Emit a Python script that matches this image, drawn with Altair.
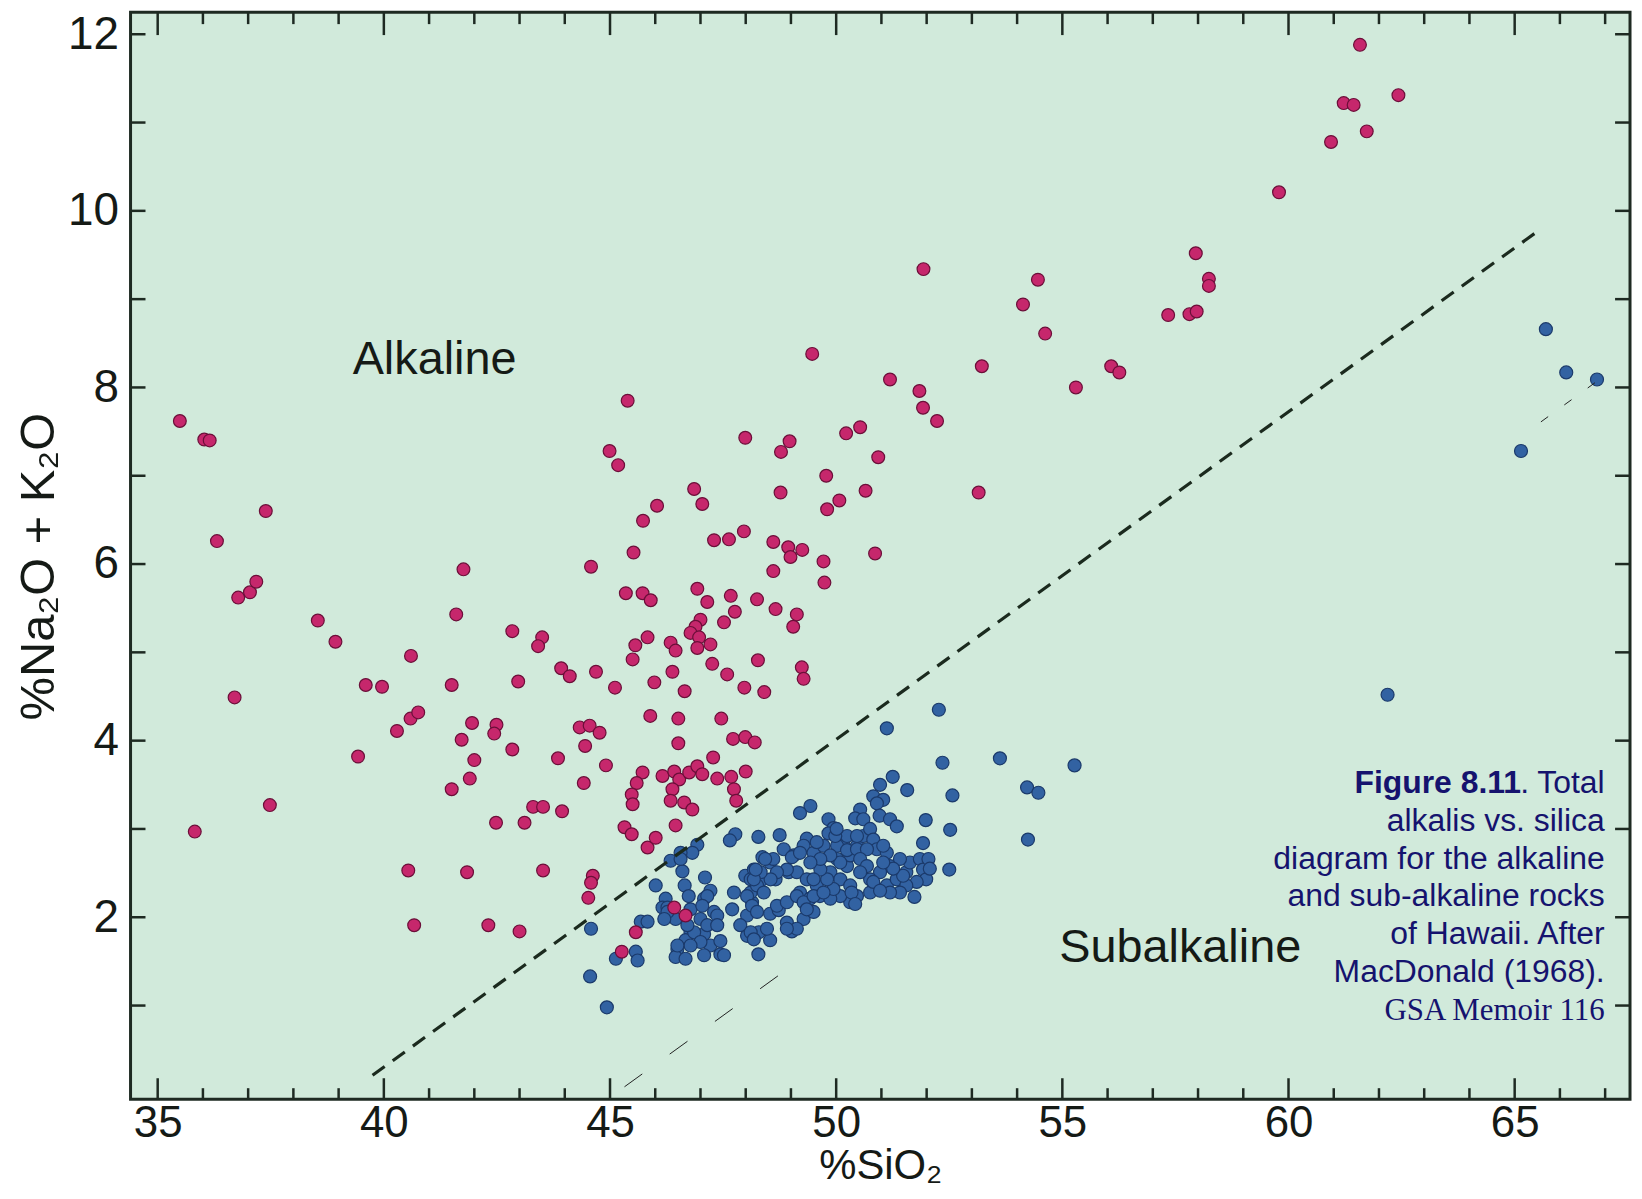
import altair as alt
import pandas as pd

# ---------------- data ----------------
X_DOMAIN = [34.40, 67.55]
Y_DOMAIN = [-0.06, 12.25]

alkaline_pts = [
    (35.49, 7.62), (36.03, 7.41), (36.15, 7.40), (36.31, 6.26), (37.39, 6.60),
    (36.78, 5.62), (37.04, 5.68), (37.18, 5.80), (38.54, 5.36), (38.93, 5.12),
    (36.70, 4.49), (35.82, 2.97), (37.48, 3.27), (39.43, 3.82), (39.60, 4.63),
    (39.96, 4.61), (40.29, 4.11), (40.59, 4.25), (40.76, 4.32), (40.60, 4.96),
    (41.50, 4.63), (41.60, 5.43), (41.76, 5.94), (41.50, 3.45), (41.90, 3.57),
    (41.95, 4.20), (41.72, 4.01), (42.00, 3.78), (42.49, 4.18), (42.44, 4.08),
    (42.84, 3.90), (42.97, 4.67), (42.84, 5.24), (43.50, 5.17), (43.41, 5.07),
    (43.85, 3.80), (43.92, 4.82), (44.11, 4.73), (44.33, 4.15), (44.55, 4.17),
    (44.77, 4.09), (44.45, 3.94), (44.58, 5.97), (44.69, 4.78), (44.42, 3.52),
    (43.30, 3.25), (43.52, 3.25), (43.94, 3.20), (42.48, 3.07), (43.11, 3.07),
    (40.54, 2.53), (41.84, 2.51), (43.52, 2.53), (44.62, 2.47), (44.58, 2.39),
    (44.52, 2.22), (40.67, 1.91), (42.31, 1.91), (43.00, 1.84), (44.91, 3.72),
    (49.47, 8.38), (53.22, 8.24), (51.19, 8.09), (51.84, 7.96), (51.92, 7.77),
    (52.23, 7.62), (45.39, 7.85), (47.99, 7.43), (48.97, 7.39), (48.78, 7.27),
    (50.22, 7.48), (50.53, 7.55), (50.93, 7.21), (44.99, 7.28), (45.18, 7.12),
    (49.78, 7.00), (48.77, 6.81), (50.07, 6.72), (49.80, 6.62), (50.65, 6.83),
    (53.15, 6.81), (46.86, 6.85), (47.04, 6.68), (46.04, 6.66), (45.73, 6.49),
    (45.52, 6.13), (47.30, 6.27), (47.63, 6.28), (47.96, 6.37), (48.61, 6.25),
    (48.94, 6.19), (48.99, 6.08), (49.25, 6.16), (49.72, 6.03), (49.74, 5.79),
    (50.86, 6.12), (48.61, 5.92), (45.35, 5.67), (45.72, 5.67), (45.90, 5.59),
    (46.93, 5.72), (47.15, 5.57), (47.67, 5.64), (48.25, 5.60), (47.76, 5.46),
    (48.66, 5.49), (49.13, 5.43), (49.05, 5.29), (47.52, 5.34), (47.00, 5.37),
    (46.89, 5.29), (46.78, 5.22), (46.97, 5.17), (46.93, 5.05), (47.22, 5.09),
    (45.56, 5.08), (45.83, 5.17), (45.50, 4.92), (46.34, 5.11), (46.45, 5.02),
    (48.27, 4.91), (49.24, 4.83), (49.28, 4.70), (47.26, 4.87), (47.59, 4.75),
    (46.38, 4.78), (45.11, 4.60), (45.98, 4.66), (46.65, 4.56), (47.97, 4.60),
    (48.41, 4.55), (45.89, 4.28), (46.51, 4.25), (47.46, 4.25), (46.51, 3.97),
    (47.72, 4.02), (47.99, 4.04), (48.20, 3.98), (47.28, 3.81),
    (45.72, 3.64), (45.59, 3.52), (45.48, 3.39), (45.50, 3.28),
    (46.16, 3.60), (46.42, 3.65), (46.53, 3.56), (46.38, 3.45), (46.34, 3.32),
    (46.64, 3.30), (46.82, 3.22), (46.75, 3.64), (46.93, 3.71), (47.04, 3.62),
    (47.37, 3.57), (47.68, 3.59), (48.00, 3.65), (47.74, 3.45), (47.79, 3.32),
    (45.32, 3.02), (45.48, 2.94), (45.83, 2.79), (46.01, 2.90), (46.45, 3.04),
    (45.57, 1.83), (45.26, 1.61), (46.42, 2.11), (46.67, 2.02),
    (61.58, 11.88), (62.43, 11.31), (61.22, 11.22), (61.44, 11.20), (61.73, 10.90),
    (60.94, 10.78), (59.79, 10.21), (57.95, 9.52), (58.24, 9.23), (58.24, 9.15),
    (57.34, 8.82), (57.81, 8.83), (57.97, 8.86), (54.46, 9.22), (54.13, 8.94),
    (54.62, 8.61), (55.30, 8.00), (56.08, 8.24), (56.26, 8.17), (51.93, 9.34),
]

subalkaline_pts = [
    (65.69, 8.66), (66.14, 8.17), (66.82, 8.09), (65.14, 7.28), (62.19, 4.52),
    (53.62, 3.80), (54.22, 3.47), (54.47, 3.41), (54.24, 2.88), (55.27, 3.72),
    (52.27, 4.35), (51.12, 4.14),
    (52.35, 3.75), (52.57, 3.38), (52.52, 2.99), (52.50, 2.54),
    (51.57, 3.44), (51.25, 3.59), (50.97, 3.50), (50.82, 3.37), (51.04, 3.33), (50.90, 3.29),
    (50.53, 3.22), (50.42, 3.12), (50.60, 3.11), (50.96, 3.15), (51.19, 3.11), (51.34, 3.03),
    (51.98, 3.10), (51.92, 2.84), (51.73, 2.23),
    (49.43, 3.26), (49.20, 3.18), (49.83, 3.11), (49.94, 3.01), (49.83, 2.95),
    (49.35, 2.89), (48.75, 2.93), (48.28, 2.91), (47.77, 2.94), (47.65, 2.87),
    (46.93, 2.82), (46.82, 2.73), (46.56, 2.73), (46.34, 2.64),
    (46.60, 2.52), (46.65, 2.36), (47.10, 2.45), (46.01, 2.36), (46.23, 2.21), (46.16, 2.11),
    (47.22, 2.30), (47.08, 2.21), (47.30, 2.06), (47.37, 2.02), (47.00, 1.98), (46.78, 2.09), (46.45, 1.98),
    (46.78, 1.83), (46.67, 1.74), (46.49, 1.64), (46.45, 1.55), (46.67, 1.53),
    (47.08, 1.81), (47.22, 1.68), (47.44, 1.73), (47.44, 1.58), (47.15, 1.91),
    (47.74, 2.28), (47.70, 2.09), (48.03, 2.02), (48.14, 2.17), (48.11, 2.28), (47.99, 2.47), (48.25, 2.47),
    (48.03, 1.79), (48.29, 1.83), (48.54, 1.74), (48.28, 1.58),
    (48.54, 2.04), (48.73, 2.08), (48.91, 1.94), (49.02, 1.84),
    (48.37, 2.68), (48.54, 2.62), (48.37, 2.43), (48.66, 2.43), (48.95, 2.51),
    (48.84, 2.77), (49.06, 2.70), (49.28, 2.81), (49.50, 2.73), (49.72, 2.81),
    (49.13, 2.51), (49.35, 2.43), (49.57, 2.36), (49.20, 2.28), (49.42, 2.21), (49.64, 2.24),
    (49.28, 1.98), (49.50, 2.06),
    (49.87, 2.51), (50.09, 2.43), (50.24, 2.58), (50.31, 2.70), (50.02, 2.66), (50.17, 2.81),
    (50.46, 2.81), (50.60, 2.92), (50.75, 3.00), (50.82, 2.88),
    (50.31, 2.36), (50.46, 2.24), (50.31, 2.17), (50.09, 2.24), (49.87, 2.21),
    (50.90, 2.77), (51.12, 2.73), (51.19, 2.58), (50.97, 2.51), (50.75, 2.43), (50.90, 2.32),
    (51.12, 2.36), (51.34, 2.43), (51.55, 2.51), (51.63, 2.62), (51.85, 2.66), (51.92, 2.54),
    (51.99, 2.43), (51.78, 2.40), (51.55, 2.36), (51.41, 2.28), (51.19, 2.28), (50.75, 2.28),
    (45.57, 1.61), (45.61, 1.51), (45.13, 1.53), (45.68, 1.95), (45.83, 1.95),
    (44.58, 1.87), (44.56, 1.33), (44.93, 0.98),
    (50.24, 2.92), (50.46, 2.92), (49.57, 2.85), (50.02, 2.81), (50.24, 2.76), (50.46, 2.77), (50.68, 2.77),
    (49.02, 2.68), (49.20, 2.73), (48.61, 2.66), (48.43, 2.66),
    (51.04, 2.81), (51.41, 2.66), (52.04, 2.66), (52.07, 2.55), (51.48, 2.47), (51.26, 2.55), (51.04, 2.62),
    (50.82, 2.40), (50.97, 2.30),
    (50.34, 2.28), (50.42, 2.15), (49.94, 2.32), (49.80, 2.43), (49.65, 2.54), (49.50, 2.43),
    (48.91, 2.54), (48.69, 2.51), (48.55, 2.43), (48.33, 2.51), (48.18, 2.54), (48.11, 2.43),
    (48.25, 2.36), (48.40, 2.28), (48.03, 2.24), (48.14, 2.13), (48.25, 2.06), (48.69, 2.13),
    (48.91, 2.17), (49.13, 2.24), (49.28, 2.17), (49.50, 2.24), (49.72, 2.28), (49.13, 1.87),
    (48.91, 1.87), (49.35, 2.09),
    (47.88, 1.91), (48.11, 1.83), (48.47, 1.87),
    (49.98, 2.92), (50.01, 3.00),
    (50.09, 2.62), (50.53, 2.66), (50.68, 2.58), (49.87, 2.70), (49.65, 2.66), (49.43, 2.62), (50.53, 2.51),
    (46.56, 2.66), (46.74, 2.24), (46.27, 2.11),
    (47.15, 2.24), (47.04, 2.13), (47.37, 1.91), (46.86, 1.83), (46.71, 1.91), (46.27, 2.06), (46.20, 1.98),
    (48.18, 2.43), (48.22, 2.54), (48.18, 1.75),
    (47.00, 1.72), (46.78, 1.68), (46.49, 1.68), (47.08, 1.57), (47.52, 1.57),
]

divider_x = [39.75, 65.51]
divider_y = [0.21, 9.77]

faint_a_x = [45.32, 48.75]
faint_a_y = [0.08, 1.35]
faint_b_x = [65.58, 66.82]
faint_b_y = [7.61, 8.07]

x_label_values = [35, 40, 45, 50, 55, 60, 65]
x_minor_ticks = [36, 37, 38, 39, 41, 42, 43, 44, 46, 47, 48, 49, 51, 52, 53, 54,
                 56, 57, 58, 59, 61, 62, 63, 64, 66, 67]
y_label_values = [2, 4, 6, 8, 10, 12]
y_ticks = [1, 2, 3, 4, 5, 6, 7, 8, 9, 10, 11, 12]

region_labels = ["Alkaline", "Subalkaline"]
region_x = [39.31, 54.93]
region_y = [8.15, 1.49]

caption_lines = ["alkalis vs. silica", "diagram for the alkaline",
                 "and sub-alkaline rocks", "of Hawaii. After", "MacDonald (1968)."]
caption_y = [2.98, 2.55, 2.13, 1.70, 1.27]
caption_first_bold = "Figure 8.11"
caption_first_rest = ". Total"
caption_first_y = 3.41
caption_source = "GSA Memoir 116"
caption_source_y = 0.84
caption_right_x = 66.99

# ---------------- styling ----------------
W, H = 1505, 1091
FONT = "Liberation Sans"
INK = "#151a16"
FRAME = "#1e2a22"
NAVY = "#15136e"
PINK, PINK_EDGE = "#c6276c", "#6b0f39"
BLUE, BLUE_EDGE = "#3262a2", "#1b3a6b"

xs = alt.Scale(domain=X_DOMAIN, nice=False, zero=False)
ys = alt.Scale(domain=Y_DOMAIN, nice=False, zero=False)

x_axis = alt.Axis(values=x_label_values, format="d", title="%SiO₂", ticks=False, domain=False,
                  grid=False, labelFont=FONT, labelFontSize=44, labelColor=INK, labelPadding=2,
                  titleFont=FONT, titleFontSize=42, titleFontWeight="normal", titleColor=INK,
                  titleY=80, titleBaseline="alphabetic")
y_axis = alt.Axis(values=y_label_values, format="d", title="%Na₂O + K₂O", ticks=False, domain=False,
                  grid=False, labelFont=FONT, labelFontSize=46, labelColor=INK, labelPadding=12,
                  titleFont=FONT, titleFontSize=49, titleFontWeight="normal", titleColor=INK,
                  titlePadding=4, titleY=556)

# identical encodings in every layer, so the shared axes merge cleanly
X_ENC = alt.X("sio2:Q", scale=xs, axis=x_axis)
Y_ENC = alt.Y("alk:Q", scale=ys, axis=y_axis)

df_alk = pd.DataFrame(alkaline_pts, columns=["sio2", "alk"])
df_sub = pd.DataFrame(subalkaline_pts, columns=["sio2", "alk"])

sub_layer = alt.Chart(df_sub).mark_circle(
    size=170, fill=BLUE, stroke=BLUE_EDGE, strokeWidth=1.2, opacity=1
).encode(x=X_ENC, y=Y_ENC)

alk_layer = alt.Chart(df_alk).mark_circle(
    size=165, fill=PINK, stroke=PINK_EDGE, strokeWidth=1.2, opacity=1
).encode(x=X_ENC, y=Y_ENC)


def line_layer(xv, yv, width, dash, color):
    d = pd.DataFrame({"sio2": xv, "alk": yv})
    return alt.Chart(d).mark_line(color=color, strokeWidth=width, strokeDash=dash).encode(
        x=X_ENC, y=Y_ENC)


divider = line_layer(divider_x, divider_y, 3.2, [15, 10], "#1b2a1e")
faint_a = line_layer(faint_a_x, faint_a_y, 1.0, [22, 34], "#222222")
faint_b = line_layer(faint_b_x, faint_b_y, 1.0, [9, 20], "#222222")


def xticks(vals, y0, y1):
    d = pd.DataFrame({"sio2": vals})
    return alt.Chart(d).mark_rule(color=FRAME, strokeWidth=2.5).encode(
        x=X_ENC, y=alt.value(y0), y2=alt.value(y1))


def yticks(vals, x0, x1):
    d = pd.DataFrame({"alk": vals})
    return alt.Chart(d).mark_rule(color=FRAME, strokeWidth=2.5).encode(
        y=Y_ENC, x=alt.value(x0), x2=alt.value(x1))


tick_layers = [
    xticks(x_label_values, H, H - 21),
    xticks(x_minor_ticks, H, H - 11),
    xticks(x_label_values, 0, 23),
    xticks(x_minor_ticks, 0, 12),
    yticks(y_ticks, 0, 15),
    yticks(y_ticks, W, W - 15),
]


def text_layer(texts, xv, yv, **mark):
    d = pd.DataFrame({"t": texts, "sio2": xv, "alk": yv})
    return alt.Chart(d).mark_text(baseline="alphabetic", **mark).encode(
        x=X_ENC, y=Y_ENC, text="t:N")


regions = text_layer(region_labels, region_x, region_y,
                     align="left", font=FONT, fontSize=47, color=INK)
cap_body = text_layer(caption_lines, [caption_right_x] * len(caption_lines), caption_y,
                      align="right", font=FONT, fontSize=32, color=NAVY)
cap_first = text_layer([caption_first_rest], [caption_right_x], [caption_first_y],
                       align="right", font=FONT, fontSize=32, color=NAVY)
cap_bold = text_layer([caption_first_bold], [caption_right_x], [caption_first_y],
                      align="right", font=FONT, fontSize=32, fontWeight="bold", color=NAVY, dx=-84)
cap_src = text_layer([caption_source], [caption_right_x], [caption_source_y],
                     align="right", font="Liberation Serif", fontSize=31, color=NAVY)

chart = alt.layer(
    sub_layer, alk_layer, *tick_layers, divider, faint_a, faint_b,
    regions, cap_body, cap_first, cap_bold, cap_src
).properties(
    width=W, height=H,
    autosize=alt.AutoSizeParams(type="none"),
    padding={"left": 123, "top": 2, "right": 4, "bottom": 89},
).configure(background="white").configure_view(
    fill="#d1eadb", stroke=FRAME, strokeWidth=3
)

chart.save("out.html", embed_options={"renderer": "svg", "actions": False})
